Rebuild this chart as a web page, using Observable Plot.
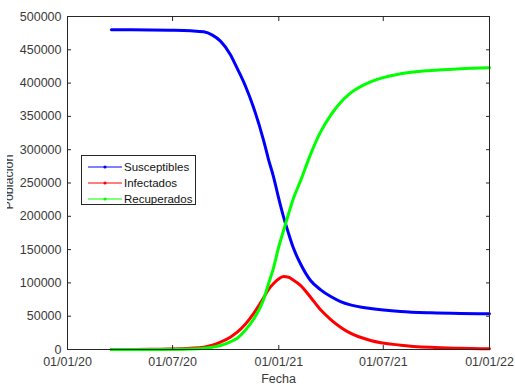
<!DOCTYPE html>
<html>
<head>
<meta charset="utf-8">
<script src="https://cdn.jsdelivr.net/npm/d3@7"></script>
<script src="https://cdn.jsdelivr.net/npm/@observablehq/plot@0.6"></script>
<style>
  html, body { margin: 0; padding: 0; background: #fff; }
  #wrap { position: relative; width: 515px; height: 386px; font-family: "Liberation Sans", Arial, sans-serif; }
  #legend { position: absolute; left: 81px; top: 155px; width: 115px; height: 50px; border: 1px solid #262626; background: #fff; box-sizing: border-box; }
  .row { position: absolute; left: 0; height: 16px; width: 114px; }
  .row svg { position: absolute; left: 0; top: 0; }
  .row span { position: absolute; left: 42px; top: 0; line-height: 16px; font-size: 11.5px; color: #111; }
</style>
</head>
<body>
<div id="wrap"></div>
<script>
// Sample dates and values
const dates = ["2020-03-17","2020-05-24","2020-06-27","2020-08-01","2020-08-24","2020-09-08","2020-09-22","2020-10-09","2020-10-21","2020-11-04","2020-11-18","2020-12-06","2020-12-14","2020-12-23","2020-12-31","2021-01-09","2021-01-18","2021-01-26","2021-02-08","2021-02-25","2021-03-14","2021-04-01","2021-04-18","2021-05-05","2021-06-09","2021-07-31","2021-09-21","2021-11-12","2022-01-01"];
const susceptibles = [480000,479900,479500,478600,477000,472000,463000,443000,422000,396000,364000,313000,286000,259000,230000,200000,174000,153000,128000,103600,90000,79500,72000,67000,61500,57000,55000,54000,53600];
const infectados   = [0,200,600,1800,3500,6500,11000,18500,26000,38000,53600,78000,90000,99000,105500,109500,108500,104500,96000,78500,60000,45000,33500,24500,13500,6500,3200,1800,1000];
const recuperados  = [0,50,200,700,1800,3500,6000,11500,17000,29000,45000,76000,98000,123000,151000,178000,204000,226000,254000,293000,326000,352000,371000,385000,402000,414000,419000,421500,423000];

const seriesNames = ["Susceptibles","Infectados","Recuperados"];
const seriesColors = ["#0000ff","#ff0000","#00ff00"];
const seriesValues = [susceptibles, infectados, recuperados];

const xTicks = ["2020-01-01","2020-07-01","2021-01-01","2021-07-01","2022-01-01"];
const yTicks = [0,50000,100000,150000,200000,250000,300000,350000,400000,450000,500000];

const parse = d3.utcParse("%Y-%m-%d");
const rows = [];
seriesNames.forEach((name, k) => {
  dates.forEach((d, i) => rows.push({serie: name, date: parse(d), value: seriesValues[k][i]}));
});
const xt = xTicks.map(parse);

const axisColor = "#262626";
const textColor = "#3a3a3a";

const chart = Plot.plot({
  width: 515,
  height: 386,
  marginTop: 16,
  marginRight: 26,
  marginBottom: 37,
  marginLeft: 67,
  style: { fontFamily: "'Liberation Sans', Arial, sans-serif", fontSize: "12.5px", background: "#fff", color: textColor },
  x: { type: "utc", domain: [parse("2020-01-01"), parse("2022-01-01")] },
  y: { domain: [0, 500000] },
  marks: [
    ...seriesNames.map((name, k) => Plot.line(rows.filter(r => r.serie === name), {
      x: "date", y: "value", stroke: seriesColors[k], strokeWidth: 3, curve: "monotone-x"
    })),
    Plot.frame({ stroke: axisColor, strokeWidth: 1 }),
    Plot.axisY({ anchor: "left", ticks: yTicks, tickSize: 0, tickPadding: 6, tickFormat: d3.format("d"), fill: textColor, label: null }),
    Plot.axisY({ anchor: "left", ticks: yTicks, tickSize: -4, text: null, stroke: axisColor, label: null }),
    Plot.axisY({ anchor: "right", ticks: yTicks, tickSize: -4, text: null, stroke: axisColor, label: null }),
    Plot.axisX({ anchor: "bottom", ticks: xt, tickSize: 0, tickPadding: 8, tickFormat: d3.utcFormat("%d/%m/%y"), fill: textColor, label: null }),
    Plot.axisX({ anchor: "bottom", ticks: xt, tickSize: -4, text: null, stroke: axisColor, label: null }),
    Plot.axisX({ anchor: "top", ticks: xt, tickSize: -4, text: null, stroke: axisColor, label: null }),
    Plot.text(["Fecha"], { frameAnchor: "bottom", lineAnchor: "top", dy: 25, fill: textColor, fontSize: 12.5 })
  ]
});

const wrap = document.getElementById("wrap");
wrap.appendChild(chart);

// y-axis label, clipped at the left like the reference
const ylab = d3.select(wrap).append("svg")
  .attr("width", 20).attr("height", 90)
  .style("position", "absolute").style("left", "0px").style("top", "140px");
ylab.append("clipPath").attr("id", "yclip").append("rect").attr("x", 7).attr("y", 0).attr("width", 13).attr("height", 90);
ylab.append("g")
  .attr("clip-path", "url(#yclip)")
  .append("text")
  .attr("transform", "translate(13,42) rotate(-90)")
  .attr("text-anchor", "middle")
  .attr("font-family", "'Liberation Sans', Arial, sans-serif")
  .attr("font-size", 12.5)
  .attr("fill", textColor)
  .text("Población");

// legend
const legend = d3.select(wrap).append("div").attr("id", "legend");
seriesNames.forEach((name, k) => {
  const row = legend.append("div").attr("class", "row").style("top", (3 + 16 * k) + "px");
  const s = row.append("svg").attr("width", 42).attr("height", 16);
  s.append("line").attr("x1", 6).attr("x2", 40).attr("y1", 8).attr("y2", 8).attr("stroke", seriesColors[k]).attr("stroke-width", 1.2);
  s.append("circle").attr("cx", 23).attr("cy", 8).attr("r", 1.6).attr("fill", seriesColors[k]);
  row.append("span").text(name);
});
</script>
</body>
</html>
